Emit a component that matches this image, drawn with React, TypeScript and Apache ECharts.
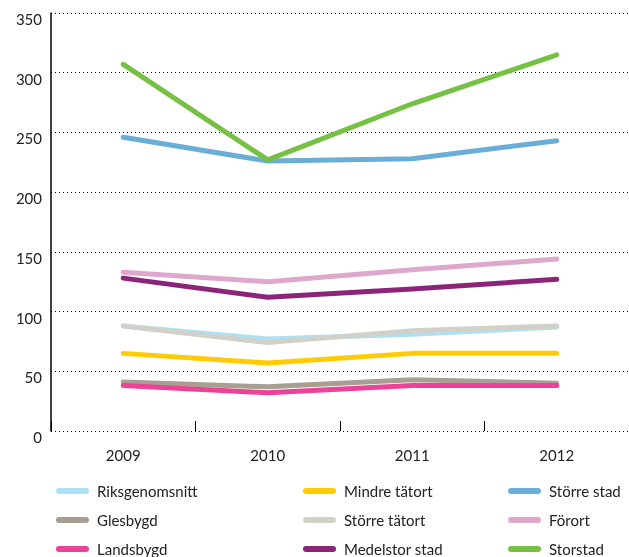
import React, { useEffect, useRef } from "react";
import * as echarts from "echarts";

const years = ["2009", "2010", "2011", "2012"];
const yTicks = { min: 0, max: 350, interval: 50 };

const riksgenomsnitt = [88, 77, 81, 87];
const mindreTatort = [65, 57, 65, 65];
const storreStad = [246, 226, 228, 243];
const glesbygd = [41, 37, 43, 40];
const storreTatort = [88, 74, 84, 88];
const fororat = [133, 125, 135, 144];
const landsbygd = [38, 32, 38, 38];
const medelstorStad = [128, 112, 119, 127];
const storstad = [307, 227, 274, 315];

const seriesDefs = [
  { name: "Riksgenomsnitt", data: riksgenomsnitt, color: "#aee0f5" },
  { name: "Mindre tätort", data: mindreTatort, color: "#ffcb05" },
  { name: "Större stad", data: storreStad, color: "#6aaed8" },
  { name: "Glesbygd", data: glesbygd, color: "#a89f93" },
  { name: "Större tätort", data: storreTatort, color: "#d2d1c9" },
  { name: "Förort", data: fororat, color: "#dea8cc" },
  { name: "Landsbygd", data: landsbygd, color: "#ec4399" },
  { name: "Medelstor stad", data: medelstorStad, color: "#8c2479" },
  { name: "Storstad", data: storstad, color: "#76c043" },
];

const legendCols = [
  ["Riksgenomsnitt", "Glesbygd", "Landsbygd"],
  ["Mindre tätort", "Större tätort", "Medelstor stad"],
  ["Större stad", "Förort", "Storstad"],
];
const legendLefts = [56, 303, 508];

const FONT = "Lato, 'Open Sans', sans-serif";
const capsule = "path://M3,0 L30,0 A3,3 0 0 1 30,6 L3,6 A3,3 0 0 1 3,0 Z";

export default function App() {
  const ref = useRef<HTMLDivElement>(null);
  useEffect(() => {
    if (!ref.current) return;
    const chart = echarts.init(ref.current, undefined, { renderer: "svg" });
    chart.setOption({
      animation: false,
      grid: { left: 51, right: -1, top: 13, bottom: 126, containLabel: false },
      legend: legendCols.map((col, i) => ({
        orient: "vertical",
        left: legendLefts[i],
        top: 483,
        data: col,
        icon: capsule,
        itemWidth: 33,
        itemHeight: 6,
        itemGap: 13,
        padding: 0,
        selectedMode: false,
        textStyle: {
          fontFamily: FONT,
          fontSize: 15,
          color: "#222",
          lineHeight: 16,
          padding: [0, 0, 0, 3],
        },
      })),
      xAxis: {
        type: "category",
        data: years,
        boundaryGap: true,
        axisLine: { show: false },
        axisTick: {
          show: true,
          inside: true,
          length: 10,
          lineStyle: { color: "#000", width: 1 },
        },
        axisLabel: {
          fontFamily: FONT,
          fontSize: 15,
          color: "#222",
          margin: 16,
        },
        splitLine: { show: false },
      },
      yAxis: {
        type: "value",
        min: yTicks.min,
        max: yTicks.max,
        interval: yTicks.interval,
        axisLine: { show: true, lineStyle: { color: "#000", width: 1.5 } },
        axisTick: { show: false },
        axisLabel: {
          fontFamily: FONT,
          fontSize: 15,
          color: "#222",
          margin: 9,
          verticalAlign: "top",
          lineHeight: 12,
        },
        splitLine: {
          show: true,
          lineStyle: { color: "#000", width: 1, type: [1, 3] },
        },
      },
      series: seriesDefs.map((s) => ({
        type: "line",
        name: s.name,
        data: s.data,
        showSymbol: false,
        symbol: "none",
        color: s.color,
        lineStyle: { color: s.color, width: 5, cap: "round", join: "round" },
        itemStyle: { color: s.color },
      })),
    });
    return () => chart.dispose();
  }, []);
  return (
    <div
      ref={ref}
      style={{ position: "fixed", left: 0, top: 0, width: 629, height: 557 }}
    />
  );
}
